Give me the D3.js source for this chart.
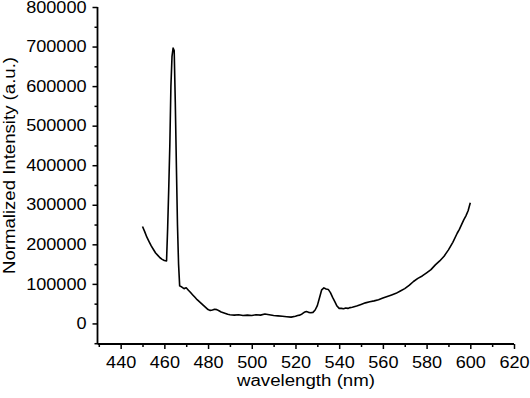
<!DOCTYPE html>
<html><head><meta charset="utf-8">
<script src="https://cdn.jsdelivr.net/npm/d3@7"></script>
<style>body{margin:0;background:#fff}svg{display:block}text{font-family:"Liberation Sans",Arial,sans-serif;fill:#000}</style>
</head><body><svg id="c" width="530" height="398"></svg>
<script>
const wavelength = [450,451,452,453,454,455,456,457,458,459,460,461,461.5,462,462.5,463,463.5,464,464.5,465,465.5,466,466.5,467,468,469,470,471,472,473,474,475,476,477,478,479,480,481,482,483,484,485,486,487,488,489,490,492,494,496,498,500,502,504,506,508,510,512,514,516,518,520,521,522,523,524,525,526,527,528,529,530,531,532,533,534,535,536,537,538,539,540,541,542,543,544,545,546,548,550,552,554,556,558,560,562,564,566,568,570,572,574,576,578,580,582,584,586,588,590,592,594,595,596,597,598,599,600];
const intensity = [245000,232000,218000,207000,196000,187000,178000,172000,166000,162000,159000,158000,240000,340000,450000,600000,675000,696000,690000,560000,400000,250000,150000,95000,92000,88000,90000,84000,78000,72000,66000,60000,55000,50000,45000,40000,35000,33000,34000,36000,35000,32000,29000,27000,25000,23000,22000,21000,22000,20000,21000,20000,22000,21000,24000,22000,20000,19000,18000,17000,16000,18000,20000,21000,24000,28000,30000,28000,27000,28000,34000,45000,65000,85000,90000,87000,86000,78000,66000,55000,44000,38000,38000,37000,39000,38000,40000,41000,44000,48000,52000,55000,57000,60000,64000,68000,72000,76000,82000,88000,96000,106000,114000,120000,128000,136000,148000,158000,170000,186000,205000,228000,238000,250000,262000,272000,285000,305000];
const xTicks = [440,460,480,500,520,540,560,580,600,620];
const xMinor = [430,450,470,490,510,530,550,570,590,610];
const yTicks = [0,100000,200000,300000,400000,500000,600000,700000,800000];
const yMinor = [-50000,50000,150000,250000,350000,450000,550000,650000,750000];
const xLabel = "wavelength (nm)";
const yLabel = "Normalized Intensity (a.u.)";

const svg = d3.select("#c");
const x = d3.scaleLinear().domain([430,620]).range([98.8,514]);
const y = d3.scaleLinear().domain([-52000,800000]).range([344,7]);
const SX = 1.13;
const AX = 97.5;

const line = d3.line().x((d,i)=>x(wavelength[i])).y(d=>y(d));
svg.append("path").datum(intensity).attr("d",line)
  .attr("fill","none").attr("stroke","#000").attr("stroke-width",1.6).attr("stroke-linejoin","round");

// minor ticks
svg.append("g").attr("transform","translate(0,344)")
  .call(d3.axisBottom(x).tickValues(xMinor).tickSize(3).tickFormat(""))
  .call(g=>g.select(".domain").remove())
  .selectAll("line").attr("stroke-width",1.5);
svg.append("g").attr("transform",`translate(${AX},0)`)
  .call(d3.axisLeft(y).tickValues(yMinor).tickSize(3).tickFormat(""))
  .call(g=>g.select(".domain").remove())
  .selectAll("line").attr("stroke-width",1.5);

// major axes
const gx = svg.append("g").attr("transform","translate(0,344)")
  .call(d3.axisBottom(x).tickValues(xTicks).tickSize(5).tickSizeOuter(0).tickPadding(8));
gx.select(".domain").attr("stroke-width",1.8).attr("d",`M${AX},0H514`);
gx.selectAll("line").attr("stroke-width",1.5);
gx.selectAll("text").attr("font-size",16).attr("font-family","Liberation Sans, Arial, sans-serif")
  .attr("transform",`scale(${SX},1)`);

const gy = svg.append("g").attr("transform",`translate(${AX},0)`)
  .call(d3.axisLeft(y).tickValues(yTicks).tickSize(5).tickSizeOuter(0).tickFormat(d3.format("d")));
gy.select(".domain").attr("stroke-width",1.8).attr("d","M0,7V344");
gy.selectAll("line").attr("stroke-width",1.5);
gy.selectAll("text").attr("font-size",16).attr("font-family","Liberation Sans, Arial, sans-serif")
  .attr("x",-11/SX).attr("transform",`scale(${SX},1)`);

svg.append("text").attr("x",306).attr("y",386).attr("text-anchor","middle")
  .attr("font-size",16).attr("textLength",138).attr("lengthAdjust","spacingAndGlyphs").text(xLabel);
svg.append("text").attr("transform","translate(15,165.5) rotate(-90)").attr("text-anchor","middle")
  .attr("font-size",17).attr("textLength",217).attr("lengthAdjust","spacingAndGlyphs").text(yLabel);
</script></body></html>
